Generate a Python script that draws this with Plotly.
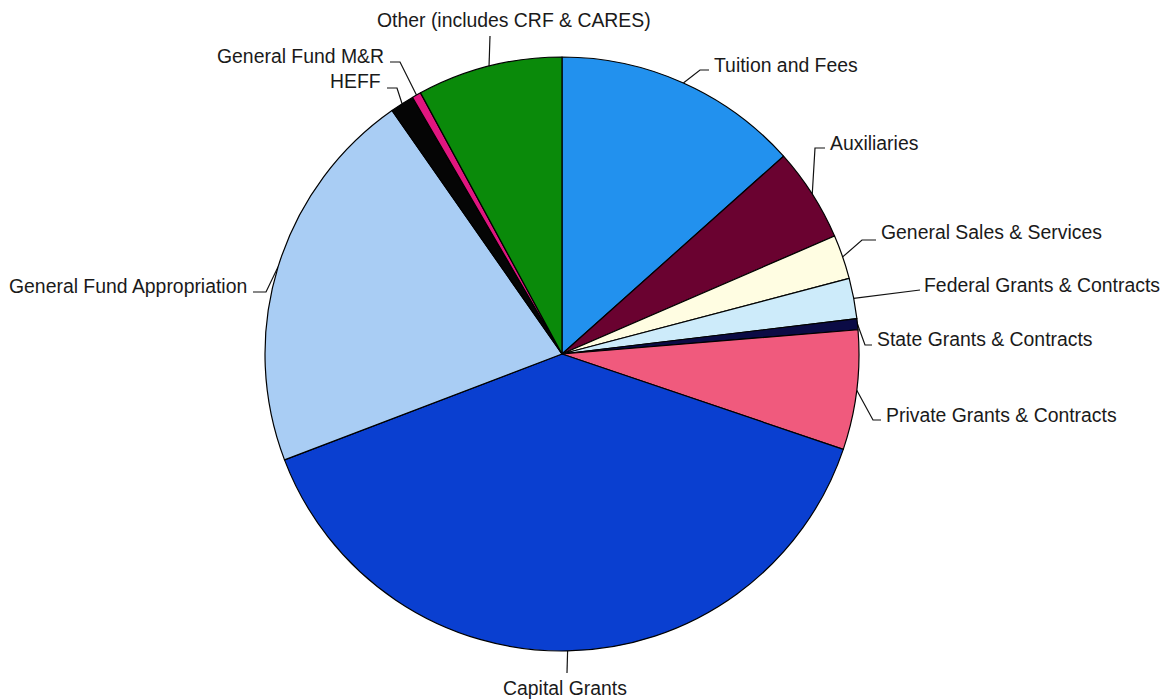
import math
import plotly.graph_objects as go

# ---- data ----
labels = ["Tuition and Fees", "Auxiliaries", "General Sales & Services",
          "Federal Grants & Contracts", "State Grants & Contracts",
          "Private Grants & Contracts", "Capital Grants",
          "General Fund Appropriation", "HEFF", "General Fund M&R",
          "Other (includes CRF & CARES)"]
values = [13.4, 5.1, 2.4, 2.2, 0.6, 6.5, 39.0, 21.1, 1.3, 0.5, 7.9]
colors = ["#2291EE", "#6A0230", "#FFFDE2", "#CDEBFA", "#0B0B45", "#F05A7D",
          "#0A3FD0", "#A9CDF4", "#050505", "#E0167F", "#0A8A0A"]

# ---- layout (page pixels; page body has an 8px margin) ----
OFF = 8
W, H = 1172 - OFF, 700 - OFF
CX, CY, R = 562, 354, 297
# per label: elbow point, end of horizontal segment, text anchor, xanchor
elbows = [(700, 70), (815, 148), (862, 240), (918, 290), (865, 345), (873, 420),
          (567, 673), (266, 292), (397, 88), (400, 62), (490, 36)]
hends = [(709, 70), (825, 148), (876, 240), (920, 290), (872, 345), (881, 420),
         (567, 673), (253, 292), (387, 88), (390, 62), (490, 36)]
texts = [(712, 65), (828, 143), (879, 232), (922, 285), (875, 339), (884, 415),
         (565, 688), (249, 286), (383, 81), (386, 56), (514, 20)]
anchors = ["left", "left", "left", "left", "left", "left",
           "center", "right", "right", "right", "center"]


def fx(x):
    return x - OFF


def fy(y):
    return y - OFF


fig = go.Figure()

cx, cy = fx(CX), fy(CY)
fig.add_trace(go.Pie(
    labels=labels, values=values, sort=False, direction="clockwise",
    rotation=0, textinfo="none", hoverinfo="label+percent",
    marker=dict(colors=colors, line=dict(color="#000000", width=1.2)),
    domain=dict(x=[(cx - R) / W, (cx + R) / W],
                y=[1 - (cy + R) / H, 1 - (cy - R) / H]),
    showlegend=False,
))

# leader lines computed from slice mid-angles
total = sum(values)
lx, ly = [], []
cum = 0.0
for i, v in enumerate(values):
    mid = (cum + v / 2) / total * 2 * math.pi
    cum += v
    sx = cx + R * math.sin(mid)
    sy = cy - R * math.cos(mid)
    lx += [sx, fx(elbows[i][0]), fx(hends[i][0]), None]
    ly += [sy, fy(elbows[i][1]), fy(hends[i][1]), None]

fig.add_trace(go.Scatter(x=lx, y=ly, mode="lines",
                         line=dict(color="#111111", width=1.2),
                         hoverinfo="skip", showlegend=False))

for i, lab in enumerate(labels):
    fig.add_annotation(x=fx(texts[i][0]), y=fy(texts[i][1]), xref="x", yref="y",
                       text=lab, showarrow=False, xanchor=anchors[i],
                       yanchor="middle",
                       font=dict(family="Liberation Sans, Arial, sans-serif",
                                 size=19.4, color="#1a1a1a"))

fig.update_layout(
    width=W, height=H, margin=dict(l=0, r=0, t=0, b=0),
    paper_bgcolor="white", plot_bgcolor="rgba(0,0,0,0)",
    xaxis=dict(range=[0, W], visible=False, fixedrange=True),
    yaxis=dict(range=[H, 0], visible=False, fixedrange=True),
)

fig.write_html("out.html")
